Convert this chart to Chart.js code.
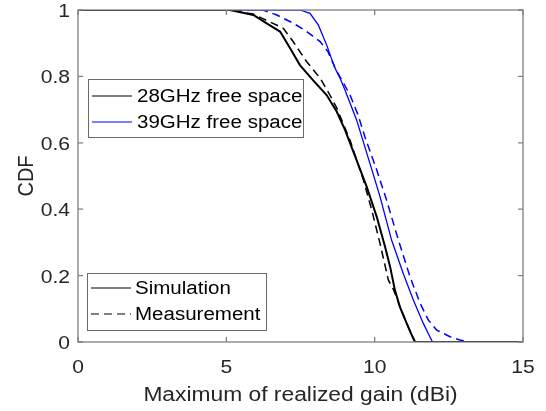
<!DOCTYPE html>
<html>
<head>
<meta charset="utf-8">
<script src="https://cdn.jsdelivr.net/npm/chart.js@4/dist/chart.umd.min.js"></script>
<style>
  html, body { margin: 0; padding: 0; background: #fff; }
</style>
</head>
<body>
<canvas id="cdfChart" width="546" height="411"></canvas>
<script>
// CDF of maximum realized gain
const sim28Gain = [0, 5.12, 5.91, 6.36, 6.81, 7.15, 7.48, 7.92, 8.38, 8.72, 9.00, 9.39, 9.73, 10.07, 10.35, 10.52, 10.68, 10.85, 11.08, 11.25, 11.36, 15];
const sim28Cdf  = [1, 1, 0.985, 0.960, 0.935, 0.885, 0.834, 0.789, 0.744, 0.694, 0.639, 0.548, 0.468, 0.377, 0.287, 0.227, 0.157, 0.106, 0.056, 0.021, 0, 0];

const meas28Gain = [0, 5.12, 5.90, 6.47, 6.92, 7.25, 7.71, 8.16, 8.49, 8.72, 9.17, 9.62, 9.90, 10.18, 10.46, 10.64, 10.85, 11.08, 11.25, 11.36, 15];
const meas28Cdf  = [1, 1, 0.988, 0.964, 0.945, 0.905, 0.844, 0.795, 0.744, 0.705, 0.608, 0.488, 0.398, 0.297, 0.187, 0.157, 0.106, 0.056, 0.021, 0, 0];

const sim39Gain = [0, 7.48, 7.82, 8.10, 8.38, 8.66, 8.83, 9.00, 9.39, 9.84, 10.18, 10.57, 10.96, 11.30, 11.64, 11.86, 11.95, 15];
const sim39Cdf  = [1, 1, 0.99, 0.955, 0.895, 0.825, 0.795, 0.759, 0.669, 0.538, 0.438, 0.307, 0.207, 0.127, 0.056, 0.016, 0, 0];

const meas39Gain = [0, 6.24, 6.70, 7.26, 7.71, 8.16, 8.43, 8.70, 8.93, 9.17, 9.44, 9.67, 10.07, 10.40, 10.80, 11.19, 11.53, 11.81, 12.09, 12.54, 12.87, 13.2, 15];
const meas39Cdf  = [1, 1, 0.985, 0.960, 0.935, 0.905, 0.874, 0.819, 0.783, 0.744, 0.684, 0.618, 0.518, 0.428, 0.307, 0.197, 0.117, 0.066, 0.036, 0.016, 0.006, 0, 0];

const xTicks = [0, 5, 10, 15];
const yTicks = [0, 0.2, 0.4, 0.6, 0.8, 1];
const xTitle = 'Maximum of realized gain (dBi)';
const yTitle = 'CDF';

const FONT = '"Liberation Sans", Arial, Helvetica, sans-serif';
const TEXT_COLOR = '#262626';
const BLUE = 'rgb(0,0,255)';
const SX = 1.14;   // the figure's text is a little wider than the font's natural width

function toPoints(xs, ys) {
  return xs.map((x, i) => ({ x: x, y: ys[i] }));
}

// draw text squeezed/stretched horizontally by SX, anchored at (x, y)
function wideText(ctx, str, x, y, size, align, color, rot) {
  ctx.save();
  ctx.translate(x, y);
  ctx.scale(SX, 1);
  if (rot) ctx.rotate(rot);
  ctx.font = size + 'px ' + FONT;
  ctx.fillStyle = color;
  ctx.textAlign = align;
  ctx.textBaseline = 'alphabetic';
  ctx.fillText(str, 0, 0);
  ctx.restore();
}

// MATLAB-like axes: box, inward ticks on all four sides, tick labels and titles
const axesPlugin = {
  id: 'axesBox',
  afterDraw(chart) {
    const ctx = chart.ctx;
    const a = chart.chartArea;
    const xs = chart.scales.x, ys = chart.scales.y;
    const tl = 5;
    ctx.save();
    ctx.strokeStyle = '#808080';
    ctx.lineWidth = 1.3;
    ctx.strokeRect(a.left, a.top, a.right - a.left, a.bottom - a.top);
    ctx.beginPath();
    xTicks.forEach(v => {
      const px = xs.getPixelForValue(v);
      ctx.moveTo(px, a.bottom); ctx.lineTo(px, a.bottom - tl);
      ctx.moveTo(px, a.top); ctx.lineTo(px, a.top + tl);
    });
    yTicks.forEach(v => {
      const py = ys.getPixelForValue(v);
      ctx.moveTo(a.left, py); ctx.lineTo(a.left + tl, py);
      ctx.moveTo(a.right, py); ctx.lineTo(a.right - tl, py);
    });
    ctx.stroke();
    ctx.restore();

    xTicks.forEach(v => wideText(ctx, String(v), xs.getPixelForValue(v), a.bottom + 31, 18.5, 'center', TEXT_COLOR));
    yTicks.forEach(v => wideText(ctx, String(v), a.left - 8, ys.getPixelForValue(v) + 7, 18.5, 'right', TEXT_COLOR));
    wideText(ctx, xTitle, (a.left + a.right) / 2, a.bottom + 59, 20, 'center', TEXT_COLOR);
    wideText(ctx, yTitle, 33, (a.top + a.bottom) / 2, 20, 'center', TEXT_COLOR, -Math.PI / 2);
  }
};

// two separate legend boxes, as in the figure
const legendBoxes = [
  { left: 88, top: 79, right: 303, bottom: 137, lineX: [92, 132], textX: 137,
    rows: [
      { y: 96, text: '28GHz free space', color: '#000', dash: [] },
      { y: 122, text: '39GHz free space', color: BLUE, dash: [] }
    ] },
  { left: 87, top: 273, right: 266, bottom: 330, lineX: [91, 131], textX: 135,
    rows: [
      { y: 288, text: 'Simulation', color: '#000', dash: [] },
      { y: 314, text: 'Measurement', color: '#000', dash: [8, 5] }
    ] }
];

const legendPlugin = {
  id: 'twoLegends',
  afterDraw(chart) {
    const ctx = chart.ctx;
    legendBoxes.forEach(b => {
      ctx.save();
      ctx.fillStyle = '#fff';
      ctx.fillRect(b.left, b.top, b.right - b.left, b.bottom - b.top);
      ctx.strokeStyle = '#6a6a6a';
      ctx.lineWidth = 1;
      ctx.strokeRect(b.left + 0.5, b.top + 0.5, b.right - b.left, b.bottom - b.top);
      b.rows.forEach(r => {
        ctx.strokeStyle = r.color;
        ctx.lineWidth = 1.2;
        ctx.setLineDash(r.dash);
        ctx.beginPath();
        ctx.moveTo(b.lineX[0], r.y);
        ctx.lineTo(b.lineX[1], r.y);
        ctx.stroke();
      });
      ctx.restore();
      b.rows.forEach(r => wideText(ctx, r.text, b.textX, r.y + 5.5, 18, 'left', '#000'));
    });
  }
};

new Chart(document.getElementById('cdfChart'), {
  type: 'scatter',
  data: {
    datasets: [
      { label: '28GHz simulation', data: toPoints(sim28Gain, sim28Cdf), borderColor: '#000', borderWidth: 2 },
      { label: '28GHz measurement', data: toPoints(meas28Gain, meas28Cdf), borderColor: '#000', borderWidth: 1.5, borderDash: [8, 5] },
      { label: '39GHz simulation', data: toPoints(sim39Gain, sim39Cdf), borderColor: BLUE, borderWidth: 1.3 },
      { label: '39GHz measurement', data: toPoints(meas39Gain, meas39Cdf), borderColor: BLUE, borderWidth: 1.5, borderDash: [8, 5] }
    ].map(d => Object.assign(d, { showLine: true, pointRadius: 0, tension: 0, fill: false }))
  },
  options: {
    responsive: false,
    devicePixelRatio: 1,
    animation: false,
    layout: { padding: { top: 10, right: 23, left: 0, bottom: 0 } },
    plugins: { legend: { display: false }, tooltip: { enabled: false } },
    scales: {
      x: {
        type: 'linear', min: 0, max: 15,
        afterFit(scale) { scale.height = 69; },
        afterBuildTicks(scale) { scale.ticks = xTicks.map(v => ({ value: v })); },
        grid: { display: false, drawTicks: false },
        border: { display: false },
        ticks: { display: false }
      },
      y: {
        type: 'linear', min: 0, max: 1,
        afterFit(scale) { scale.width = 78; },
        afterBuildTicks(scale) { scale.ticks = yTicks.map(v => ({ value: v })); },
        grid: { display: false, drawTicks: false },
        border: { display: false },
        ticks: { display: false }
      }
    }
  },
  plugins: [axesPlugin, legendPlugin]
});
</script>
</body>
</html>
